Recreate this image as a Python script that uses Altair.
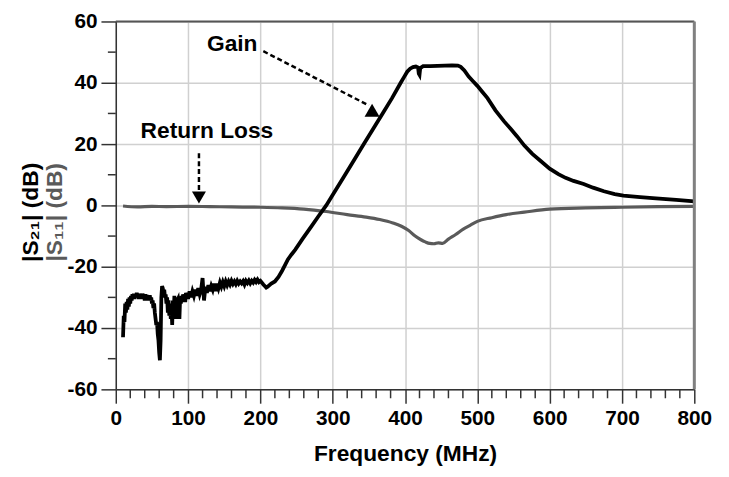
import altair as alt
import pandas as pd

# |S21| gain trace (MHz, dB)
s21_freq = (list(range(10, 101)) + list(range(102, 211, 2)) +
            [215, 220, 225, 230, 234, 238, 243, 248, 258, 270, 280, 291,
             302, 315, 330, 343, 356, 369, 382, 394, 399, 403, 407, 411, 415, 418, 419, 420,
             421, 425, 435, 445, 455, 465, 473, 477, 482, 488, 494, 500, 507, 514, 525, 537,
             546, 555, 565, 576, 588, 600, 612, 622, 633, 647, 660, 675, 690, 702, 725, 747,
             775, 800])
s21_db = [-43, -36, -38, -32, -35, -31.5, -34, -30.5, -33, -30, -32, -29.5, -31, -29, -30.5,
          -28.8, -30.5, -29, -30, -28.5, -30, -29, -30.5, -28.8, -30, -29.2, -30.5, -28.8,
          -30, -29, -31, -29, -30.5, -29.2, -31, -29.5, -30.5, -29.3, -31, -30, -32, -31,
          -33.5, -32, -35, -37, -39, -38, -42, -44, -48, -50.5, -44, -30, -26.3, -27, -28.5,
          -27.5, -30, -29, -32, -30, -35, -31, -36, -32, -37, -33, -39, -31, -37, -29.5, -35,
          -30, -37, -31, -30.5, -33, -37, -30, -32, -29.5, -31.5, -29, -31, -29, -31.5, -28.5,
          -30.5, -28.5, -30.5,
          -28, -30, -28, -29.5, -27.5, -29.5, -27, -29, -27.5, -23.7, -31, -26.5, -28.5, -26,
          -28, -26.3, -27.5, -25.5, -28, -25.5, -27, -25.2, -26.5, -25, -26.3, -24.8, -26,
          -24.8, -25.8, -24.6, -25.6, -24.8, -25.7, -24.6, -25.5, -24.8, -25.4, -24.7, -25.8,
          -24.6, -25.3, -24.5, -25.4, -24.6, -25.2, -24.3, -25, -24.2, -25, -24.6, -25.2,
          -25.8, -26.3, -26.8, -26.5,
          -25.5, -24.8, -23.3, -21.3, -19.5, -17.6, -16, -14.5, -11, -7, -3.6, 0,
          4.2, 9.2, 15, 20, 25, 30, 35, 40, 42, 43.6, 44.6, 45.1, 45.3, 45, 43, 42.6,
          44.8, 45.4, 45.4, 45.5, 45.6, 45.7, 45.6, 45.2, 44, 42, 40.5, 39, 37, 35, 31, 27.4,
          25, 22.5, 19.5, 16.8, 14.4, 12, 10.2, 9, 8, 7, 5.8, 4.6, 3.7, 3.2, 2.7, 2.3,
          1.8, 1.3]

# |S11| return-loss trace (MHz, dB)
s11_freq = [10, 30, 50, 70, 100, 130, 160, 200, 230, 260, 291, 320, 346, 365, 383, 395, 405,
            414, 422, 428, 434, 440, 446, 452, 460, 470, 480, 490, 500, 520, 540, 565, 600,
            650, 700, 750, 800]
s11_db = [-0.2, -0.5, -0.3, -0.4, -0.3, -0.4, -0.5, -0.6, -0.8, -1.2, -2.0, -3.0, -3.8, -4.6,
          -5.7, -6.8, -8.2, -10.0, -11.2, -11.9, -12.4, -12.5, -12.2, -12.4, -11.0, -9.5,
          -7.8, -6.5, -5.2, -4.0, -3.0, -2.2, -1.2, -0.8, -0.6, -0.4, -0.3]

x_major = [0, 100, 200, 300, 400, 500, 600, 700, 800]
x_minor = [20, 40, 60, 80, 120, 140, 160, 180, 220, 240, 260, 280, 320, 340, 360, 380,
           420, 440, 460, 480, 520, 540, 560, 580, 620, 640, 660, 680, 720, 740, 760, 780]
y_major = [-60, -40, -20, 0, 20, 40, 60]
y_minor = [-50, -30, -10, 10, 30, 50]

gain_label = {"f": 161, "db": 52.6, "text": "Gain"}
rl_label = {"f": 126, "db": 24.2, "text": "Return Loss"}
gain_arrow_f = [204, 350]
gain_arrow_db = [50.3, 32.6]
gain_tip = {"f": 357, "db": 30.0}
rl_arrow_f = [115, 115]
rl_arrow_db = [17.0, 5.0]
rl_tip = {"f": 115, "db": 2.6}

FONT = "Liberation Sans"
W, H = 585, 372

s21 = pd.DataFrame({"f": s21_freq, "db": s21_db})
s11 = pd.DataFrame({"f": s11_freq, "db": s11_db})

xs = alt.Scale(domain=[0, 800], nice=False, zero=False)
ys = alt.Scale(domain=[-60, 60], nice=False, zero=False)

x_axis = alt.Axis(values=x_major, tickSize=14, tickColor="#333", tickWidth=1.5,
                  domainColor="#333", domainWidth=1.5, labelFont=FONT, labelFontSize=21,
                  labelFontWeight="bold", labelColor="black", labelPadding=5,
                  labelExpr="'' + datum.value",
                  title="Frequency (MHz)", titleFont=FONT, titleFontSize=23,
                  titleFontWeight="bold", titleColor="black", titlePadding=14,
                  grid=True, gridColor="#d0d0d0", gridWidth=1.5, labelFlush=False)
y_axis = alt.Axis(values=y_major, tickSize=15, tickColor="#333", tickWidth=1.5,
                  domainColor="#333", domainWidth=1.5, labelFont=FONT, labelFontSize=21,
                  labelFontWeight="bold", labelColor="black", labelPadding=4,
                  labelExpr="'' + datum.value",
                  title=None, grid=True, gridColor="#d0d0d0", gridWidth=1.5,
                  labelFlush=False)

s11_line = alt.Chart(s11).mark_line(color="#5a5a5a", strokeWidth=3.2,
                                     interpolate="monotone").encode(
    x=alt.X("f:Q", scale=xs, axis=x_axis),
    y=alt.Y("db:Q", scale=ys, axis=y_axis),
)
s21_line = alt.Chart(s21).mark_line(color="black", strokeWidth=3.8).encode(
    x=alt.X("f:Q", scale=xs), y=alt.Y("db:Q", scale=ys))

xmin = alt.Chart(pd.DataFrame({"f": x_minor})).mark_rule(
    color="#333", strokeWidth=1.5).encode(
    x=alt.X("f:Q", scale=xs), y=alt.value(H), y2=alt.value(H + 9))
ymin = alt.Chart(pd.DataFrame({"db": y_minor})).mark_rule(
    color="#333", strokeWidth=1.5).encode(
    y=alt.Y("db:Q", scale=ys), x=alt.value(-8), x2=alt.value(0))

top_border = alt.Chart(pd.DataFrame({"db": [60]})).mark_rule(
    color="#555", strokeWidth=2).encode(
    y=alt.Y("db:Q", scale=ys), x=alt.value(0), x2=alt.value(W))
right_border = alt.Chart(pd.DataFrame({"f": [800]})).mark_rule(
    color="#808080", strokeWidth=3).encode(
    x=alt.X("f:Q", scale=xs), y=alt.value(0), y2=alt.value(H))

txt = alt.Chart(pd.DataFrame([gain_label, rl_label])).mark_text(
    font=FONT, fontSize=23, fontWeight="bold", color="black").encode(
    x=alt.X("f:Q", scale=xs), y=alt.Y("db:Q", scale=ys), text="text:N")

ga = alt.Chart(pd.DataFrame({"f": gain_arrow_f, "db": gain_arrow_db})).mark_line(
    color="black", strokeWidth=2.5, strokeDash=[5, 3]).encode(
    x=alt.X("f:Q", scale=xs), y=alt.Y("db:Q", scale=ys))
gt = alt.Chart(pd.DataFrame([gain_tip])).mark_point(
    shape="triangle-right", filled=True, color="black", opacity=1, size=230,
    angle=30).encode(x=alt.X("f:Q", scale=xs), y=alt.Y("db:Q", scale=ys))
ra = alt.Chart(pd.DataFrame({"f": rl_arrow_f, "db": rl_arrow_db})).mark_line(
    color="black", strokeWidth=2.5, strokeDash=[5, 3]).encode(
    x=alt.X("f:Q", scale=xs), y=alt.Y("db:Q", scale=ys))
rt = alt.Chart(pd.DataFrame([rl_tip])).mark_point(
    shape="triangle-down", filled=True, color="black", opacity=1, size=200).encode(
    x=alt.X("f:Q", scale=xs), y=alt.Y("db:Q", scale=ys))

ytitle = alt.Chart(pd.DataFrame({
    "t": ["|S₂₁| (dB)", "|S₁₁| (dB)"],
    "c": ["black", "#5a5a5a"],
    "px": [-86, -61],
})).mark_text(font=FONT, fontSize=23, fontWeight="bold", angle=270,
              baseline="middle").encode(
    x=alt.X("px:Q", scale=None), y=alt.value(193), text="t:N",
    color=alt.Color("c:N", scale=None))

chart = alt.layer(
    s11_line, s21_line, xmin, ymin, top_border, right_border,
    ga, gt, ra, rt, txt, ytitle
).properties(
    width=W, height=H,
    autosize=alt.AutoSizeParams(type="none"),
    padding={"left": 109, "top": 11, "right": 27, "bottom": 86},
).configure_view(stroke=None).configure(background="white")

chart.save("out.html", embed_options={"renderer": "svg", "actions": False})
